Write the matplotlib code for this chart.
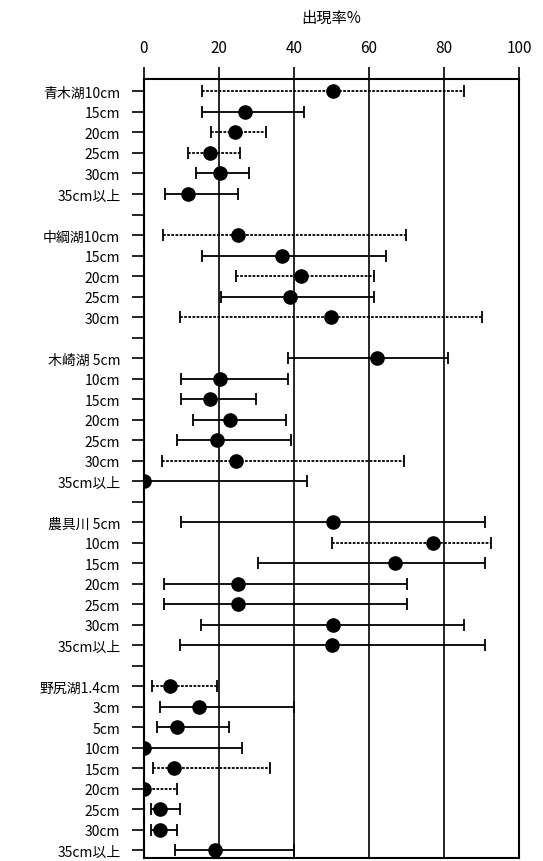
import numpy as np
import matplotlib.pyplot as plt

plt.rcParams['font.family'] = ['Noto Sans CJK JP', 'DejaVu Sans']

labels = ["青木湖10cm", "15cm", "20cm", "25cm", "30cm", "35cm以上", "",
          "中綱湖10cm", "15cm", "20cm", "25cm", "30cm", "",
          "木崎湖 5cm", "10cm", "15cm", "20cm", "25cm", "30cm", "35cm以上", "",
          "農具川 5cm", "10cm", "15cm", "20cm", "25cm", "30cm", "35cm以上", "",
          "野尻湖1.4cm", "3cm", "5cm", "10cm", "15cm", "20cm", "25cm", "30cm", "35cm以上"]

nan = np.nan
rate = np.array([50.5, 27.0, 24.4, 17.5, 20.2, 11.8, nan,
                 25.1, 36.9, 41.8, 39.0, 49.9, nan,
                 62.0, 20.2, 17.5, 22.9, 19.5, 24.6, 0.0, nan,
                 50.3, 77.1, 67.0, 25.1, 25.1, 50.3, 50.1, nan,
                 7.0, 14.7, 8.8, 0.0, 8.1, 0.0, 4.4, 4.2, 18.9])
lower = np.array([15.5, 15.5, 17.9, 11.8, 13.8, 5.6, nan,
                  5.1, 15.6, 24.6, 20.6, 9.6, nan,
                  38.5, 9.8, 9.8, 13.0, 8.7, 4.9, 0.0, nan,
                  9.9, 50.1, 30.3, 5.3, 5.3, 15.3, 9.7, nan,
                  2.2, 4.4, 3.5, 0.0, 2.5, 0.0, 1.8, 1.8, 8.2])
upper = np.array([85.2, 42.6, 32.5, 25.5, 28.0, 25.0, nan,
                  69.9, 64.6, 61.2, 61.2, 90.2, nan,
                  81.1, 38.5, 30.0, 38.0, 39.1, 69.4, 43.4, nan,
                  90.9, 92.6, 90.9, 70.2, 70.2, 85.3, 90.9, nan,
                  19.5, 40.0, 22.6, 26.1, 33.6, 8.8, 9.5, 8.9, 40.0])

# rows whose range line is drawn dotted
dotted_rows = [0, 2, 3, 7, 9, 11, 18, 22, 29, 33, 34]

y = np.arange(len(labels))
valid = ~np.isnan(rate)
is_dotted = np.zeros(len(labels), dtype=bool)
is_dotted[dotted_rows] = True

fig = plt.figure(figsize=(5.43, 8.62), dpi=100)
ax = fig.add_axes([0.265, 0.003, 0.691, 0.904])

for sel, ls in [(valid & ~is_dotted, '-'), (valid & is_dotted, (0, (1.5, 0.8)))]:
    err = [rate[sel] - lower[sel], upper[sel] - rate[sel]]
    _, caps, bars = ax.errorbar(rate[sel], y[sel], xerr=err, fmt='o', color='black',
                                ms=9.5, ecolor='black', elinewidth=1.3,
                                capsize=4, capthick=1.3, zorder=3)
    for b in bars:
        b.set_linestyle(ls)

ax.set_xlim(0, 100)
ax.set_ylim(37.4, -0.6)
ax.set_xticks([0, 20, 40, 60, 80, 100])
ax.xaxis.tick_top()
ax.xaxis.set_label_position('top')
ax.set_xlabel("出現率%", fontsize=11, labelpad=12)
ax.set_yticks(y)
ax.set_yticklabels(labels, fontsize=10)
ax.tick_params(axis='x', direction='out', length=9, width=1.2, labelsize=11, pad=8)
ax.tick_params(axis='y', direction='out', length=9, width=1.2, pad=8)
ax.grid(axis='x', color='black', lw=1.2)
for s in ax.spines.values():
    s.set_linewidth(1.5)

fig.savefig("out.png", dpi=100)
